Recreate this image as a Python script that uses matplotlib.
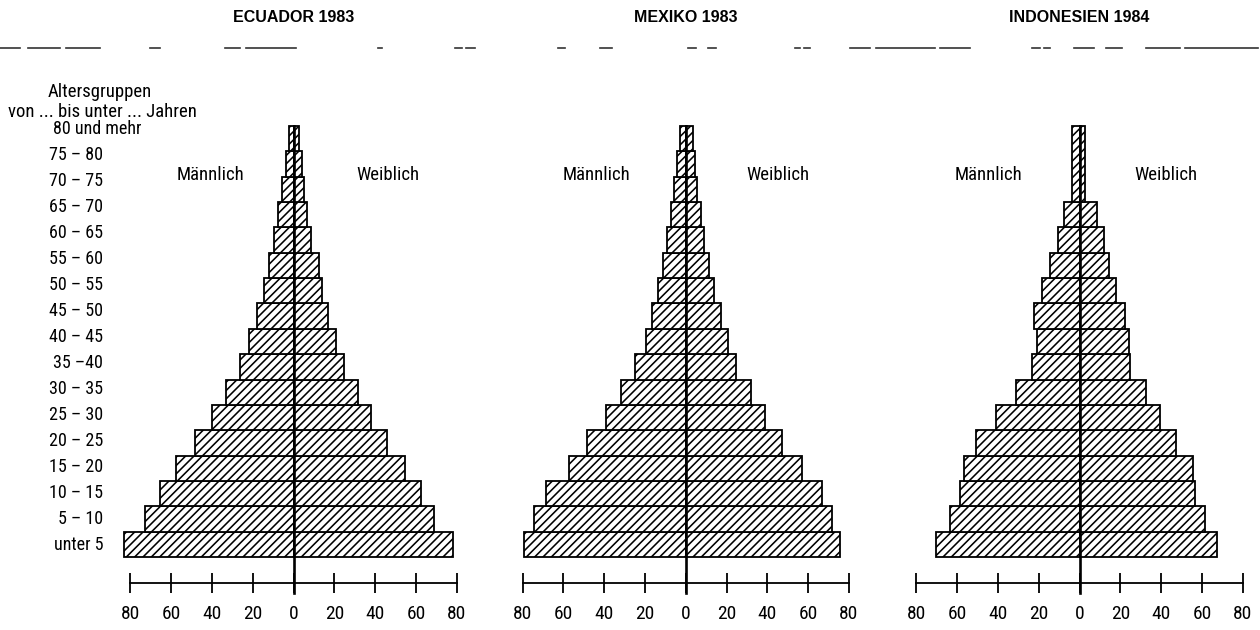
import matplotlib
matplotlib.use("Agg")
import matplotlib.pyplot as plt
from matplotlib import font_manager as fm
from matplotlib.lines import Line2D

# ---------------- data ----------------
age_groups = ["unter 5", "5 – 10", "10 – 15", "15 – 20", "20 – 25", "25 – 30",
              "30 – 35", "35 –40", "40 – 45", "45 – 50", "50 – 55", "55 – 60",
              "60 – 65", "65 – 70", "70 – 75", "75 – 80", "80 und mehr"]

ecuador_m = [83.2, 72.6, 65.4, 57.6, 48.1, 40.0, 33.1, 26.1, 21.7, 17.9, 14.7, 11.9, 9.5, 7.5, 5.9, 3.7, 2.1]
ecuador_f = [77.9, 68.9, 62.4, 54.7, 45.7, 37.9, 31.8, 24.5, 21.0, 16.8, 13.9, 12.3, 8.5, 6.6, 5.2, 3.9, 2.8]

mexiko_m = [79.2, 74.2, 68.5, 57.3, 48.6, 39.2, 31.9, 24.8, 19.5, 16.7, 13.7, 11.0, 9.3, 7.2, 5.8, 4.4, 2.8]
mexiko_f = [75.6, 71.6, 67.0, 57.2, 47.1, 38.9, 31.9, 24.6, 20.6, 17.2, 14.0, 11.6, 9.1, 7.5, 5.4, 4.5, 3.4]

# Indonesia: 5-year groups up to 65-70, then one combined group "70 und mehr"
indonesien_m = [70.2, 63.7, 58.8, 56.4, 50.6, 40.8, 31.0, 23.2, 20.9, 22.4, 18.3, 14.7, 10.6, 7.7]
indonesien_f = [67.5, 61.3, 56.7, 55.5, 47.4, 39.7, 32.7, 24.8, 24.2, 22.5, 18.0, 14.7, 11.9, 8.7]
indonesien_70plus_m = 3.6
indonesien_70plus_f = 2.9

titles = ["ECUADOR 1983", "MEXIKO 1983", "INDONESIEN 1984"]
tick_values = [-80, -60, -40, -20, 0, 20, 40, 60, 80]
tick_labels = ["80", "60", "40", "20", "0", "20", "40", "60", "80"]

# ---------------- fonts ----------------
ttf = fm.fontManager.ttflist
avail = {f.name for f in ttf}
cond_prop = None
for nm in ["Roboto Condensed", "Liberation Sans Narrow", "Open Sans Condensed", "Noto Sans Condensed"]:
    if nm in avail:
        cond_prop = fm.FontProperties(family=nm)
        break
if cond_prop is None:
    for f in ttf:
        fn = f.fname.replace("\\", "/").split("/")[-1]
        if fn in ("DejaVuSansCondensed.ttf", "RobotoCondensed-Regular.ttf",
                  "NotoSans-Condensed.ttf", "NotoSans-CondensedRegular.ttf"):
            cond_prop = fm.FontProperties(fname=f.fname)
            break
if cond_prop is not None:
    TXT = cond_prop
    FS = 13.5
else:
    TXT = fm.FontProperties(family="Liberation Sans")
    FS = 12.5
ROW_FS = FS - 0.5
BOLD = "Liberation Sans" if "Liberation Sans" in avail else "DejaVu Sans"
plt.rcParams["hatch.linewidth"] = 1.15

W, H = 1260, 630
fig = plt.figure(figsize=(W / 100, H / 100), dpi=100)
fig.patch.set_facecolor("white")

SCALE = 2.04          # px per unit
XL = 88
Y0, Y1 = -2.2, 16.6
ROW_PX = 25.35
ROW0_PX = 544.3       # pixel y of row 0 centre
AXIS_R = -1.515
bottom_px = ROW0_PX - Y0 * ROW_PX
top_px = ROW0_PX - Y1 * ROW_PX

centers = [293.6, 685.7, 1079.5]
sex_pos = [(-40.8, 46.4), (-43.5, 45.2), (-44.8, 42.5)]


def tp(size=None):
    p = TXT.copy()
    p.set_size(size if size else FS)
    return p


def style_axes(ax):
    ax.set_xlim(-XL, XL)
    ax.set_ylim(Y0, Y1)
    for s in ["left", "right", "top"]:
        ax.spines[s].set_visible(False)
    ax.spines["bottom"].set_position(("data", AXIS_R))
    ax.spines["bottom"].set_bounds(-80, 80)
    ax.spines["bottom"].set_linewidth(1.3)
    ax.set_xticks(tick_values)
    ax.set_xticklabels(tick_labels)
    for lab in ax.get_xticklabels():
        lab.set_fontproperties(tp(FS + 0.5))
    ax.tick_params(axis="x", direction="inout", length=14.5, width=1.3, pad=9)
    ax.set_yticks([])
    ax.patch.set_visible(False)
    ymin = (AXIS_R - 0.42 - Y0) / (Y1 - Y0)
    ymax = (16.5 - Y0) / (Y1 - Y0)
    ax.axvline(0, ymin=ymin, ymax=ymax, color="black", lw=1.9, zorder=5)


bar_kw = dict(height=1.0, color="white", edgecolor="black", hatch="////", linewidth=1.3)

datasets = [
    (ecuador_m, ecuador_f, None),
    (mexiko_m, mexiko_f, None),
    (indonesien_m, indonesien_f, (indonesien_70plus_m, indonesien_70plus_f)),
]

for i, (cx, (m, f, extra)) in enumerate(zip(centers, datasets)):
    left = (cx - XL * SCALE) / W
    ax = fig.add_axes([left, (H - bottom_px) / H, 2 * XL * SCALE / W, (bottom_px - top_px) / H])
    y = list(range(len(m)))
    ax.barh(y, [-v for v in m], **bar_kw)
    ax.barh(y, f, **bar_kw)
    if extra is not None:
        yc = len(m) + 1  # combined 70-75, 75-80, 80+ rows
        ax.barh([yc], [-extra[0]], **{**bar_kw, "height": 3.0})
        ax.barh([yc], [extra[1]], **{**bar_kw, "height": 3.0})
    style_axes(ax)
    ry = 14.57
    ax.text(sex_pos[i][0], ry, "Männlich", ha="center", va="center", fontproperties=tp())
    ax.text(sex_pos[i][1], ry, "Weiblich", ha="center", va="center", fontproperties=tp())
    fig.text(cx / W, (H - 18) / H, titles[i], ha="center", va="center",
             fontsize=11.5, fontweight="bold", family=BOLD)

# row labels
for k, lab in enumerate(age_groups):
    ypx = 545 - k * 26.0
    if lab == "80 und mehr":
        fig.text(53 / W, (H - ypx) / H, lab, ha="left", va="center", fontproperties=tp(ROW_FS))
    else:
        fig.text(103 / W, (H - ypx) / H, lab, ha="right", va="center", fontproperties=tp(ROW_FS))

fig.text(100 / W, (H - 92) / H, "Altersgruppen", ha="center", va="center", fontproperties=tp())
fig.text(102 / W, (H - 112) / H, "von ... bis unter ... Jahren", ha="center", va="center",
         fontproperties=tp())

# broken rule under titles (scan artefact)
segs = [(0, 20), (28, 60), (66, 100), (150, 160), (225, 240), (246, 296), (378, 382),
        (455, 462), (466, 475), (558, 565), (600, 612), (688, 696), (708, 716),
        (795, 800), (804, 810), (850, 870), (876, 935), (940, 970), (1032, 1040),
        (1044, 1050), (1074, 1094), (1106, 1122), (1146, 1180), (1185, 1258)]
for a, b in segs:
    fig.add_artist(Line2D([a / W, b / W], [(H - 48) / H, (H - 48) / H],
                          transform=fig.transFigure, color="#333333", lw=1.2))

fig.savefig("out.png", dpi=100, facecolor="white")
